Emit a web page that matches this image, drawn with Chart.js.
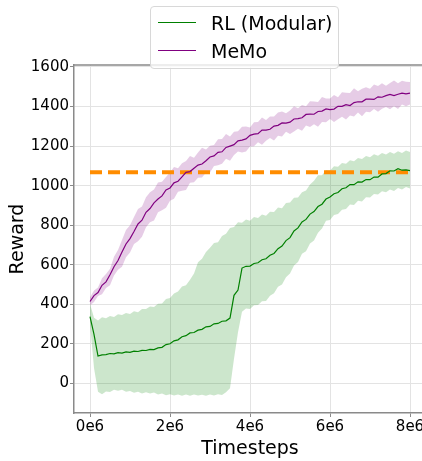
<!DOCTYPE html>
<html>
<head>
<meta charset="utf-8">
<script src="https://cdn.jsdelivr.net/npm/chart.js@4"></script>
<style>
  html, body { margin: 0; padding: 0; background: #fff; overflow: hidden; }
  #wrap { position: relative; width: 422px; height: 461px; overflow: hidden; }
  #chart { position: absolute; left: 0; top: 0; }
  .legend {
    position: absolute; left: 150px; top: 6px; width: 187px; height: 61px;
    border: 1px solid #d8d8d8; border-radius: 4px; background: rgba(255,255,255,0.8);
    font-family: "DejaVu Sans", sans-serif; font-size: 19px; color: #000;
  }
  .row { position: absolute; left: 0; height: 24px; line-height: 24px; white-space: nowrap; }
  .row span.swatch { position: absolute; left: 7px; top: 11px; width: 38px; height: 0; border-top: 1.3px solid; }
  .row span.label { position: absolute; left: 60px; top: 0; }
</style>
</head>
<body>
<div id="wrap">
  <canvas id="chart" width="430" height="461"></canvas>
  <div class="legend">
    <div class="row" style="top:4px"><span class="swatch" style="border-color:green"></span><span class="label">RL (Modular)</span></div>
    <div class="row" style="top:32px"><span class="swatch" style="border-color:purple"></span><span class="label">MeMo</span></div>
  </div>
</div>
<script>
// timesteps in millions
const timesteps = [0, 0.1, 0.2, 0.3, 0.4, 0.5, 0.6, 0.7, 0.8, 0.9,
  1.0, 1.1, 1.2, 1.3, 1.4, 1.5, 1.6, 1.7, 1.8, 1.9,
  2.0, 2.1, 2.2, 2.3, 2.4, 2.5, 2.6, 2.7, 2.8, 2.9,
  3.0, 3.1, 3.2, 3.3, 3.4, 3.5, 3.6, 3.7, 3.8, 3.9,
  4.0, 4.1, 4.2, 4.3, 4.4, 4.5, 4.6, 4.7, 4.8, 4.9,
  5.0, 5.1, 5.2, 5.3, 5.4, 5.5, 5.6, 5.7, 5.8, 5.9,
  6.0, 6.1, 6.2, 6.3, 6.4, 6.5, 6.6, 6.7, 6.8, 6.9,
  7.0, 7.1, 7.2, 7.3, 7.4, 7.5, 7.6, 7.7, 7.8, 7.9,
  8.0];

const rlMean = [337, 248, 138, 144, 145, 151, 149, 155, 153, 159,
  157, 163, 161, 167, 166, 172, 171, 179, 182, 196,
  200, 215, 220, 236, 241, 255, 257, 269, 273, 286,
  288, 301, 303, 314, 316, 330, 445, 472, 583, 592,
  593, 606, 610, 625, 630, 648, 657, 681, 694, 722,
  737, 771, 786, 816, 829, 856, 869, 894, 906, 932,
  942, 959, 965, 984, 989, 1005, 1005, 1019, 1018, 1031,
  1030, 1043, 1043, 1059, 1061, 1075, 1074, 1086, 1078, 1080,
  1076];
const rlUpper = [402, 332, 318, 334, 329, 341, 336, 349, 346, 356,
  351, 364, 360, 376, 376, 389, 386, 402, 404, 426,
  432, 455, 464, 490, 496, 524, 556, 612, 630, 664,
  686, 710, 714, 745, 756, 786, 791, 815, 812, 828,
  822, 841, 836, 854, 848, 868, 866, 889, 886, 912,
  914, 939, 940, 967, 975, 1006, 1025, 1052, 1052, 1079,
  1077, 1098, 1095, 1114, 1110, 1128, 1123, 1140, 1135, 1150,
  1143, 1158, 1151, 1165, 1157, 1170, 1161, 1174, 1165, 1178,
  1170];
const rlLower = [300, 78, -42, -55, -41, -44, -32, -38, -33, -43,
  -39, -47, -42, -51, -45, -52, -46, -56, -52, -60,
  -55, -62, -57, -63, -57, -63, -57, -62, -58, -63,
  -57, -62, -55, -59, -45, -25, 125, 258, 362, 378,
  376, 395, 396, 415, 416, 443, 456, 488, 500, 537,
  555, 596, 614, 655, 668, 707, 723, 762, 783, 822,
  826, 851, 856, 878, 882, 904, 902, 924, 920, 941,
  940, 958, 955, 972, 966, 980, 973, 988, 980, 993,
  986];

const memoMean = [414, 444, 459, 496, 513, 549, 590, 621, 664, 705,
  732, 768, 806, 825, 865, 884, 913, 932, 948, 978,
  988, 1014, 1022, 1044, 1067, 1071, 1088, 1104, 1109, 1126,
  1145, 1150, 1168, 1171, 1193, 1200, 1207, 1226, 1230, 1236,
  1254, 1260, 1263, 1281, 1281, 1285, 1301, 1305, 1317, 1316,
  1321, 1337, 1339, 1343, 1360, 1362, 1361, 1375, 1377, 1388,
  1384, 1387, 1401, 1401, 1409, 1405, 1420, 1424, 1424, 1437,
  1437, 1436, 1449, 1447, 1455, 1461, 1455, 1462, 1468, 1464,
  1468];
const memoUpper = [436, 470, 485, 532, 553, 580, 640, 674, 725, 776,
  799, 841, 882, 894, 941, 967, 980, 1016, 1019, 1043,
  1068, 1094, 1088, 1113, 1125, 1150, 1141, 1168, 1191, 1183,
  1201, 1206, 1234, 1236, 1261, 1249, 1272, 1275, 1298, 1299,
  1294, 1320, 1322, 1344, 1332, 1349, 1349, 1370, 1375, 1366,
  1380, 1401, 1391, 1408, 1402, 1427, 1425, 1423, 1448, 1440,
  1441, 1458, 1447, 1472, 1470, 1468, 1492, 1477, 1490, 1498,
  1490, 1511, 1504, 1518, 1505, 1519, 1531, 1518, 1530, 1525,
  1524];
const memoLower = [394, 411, 442, 451, 482, 496, 546, 574, 590, 638,
  662, 705, 719, 741, 789, 815, 823, 865, 876, 888,
  923, 934, 969, 974, 978, 1015, 1017, 1040, 1041, 1066,
  1066, 1099, 1103, 1110, 1136, 1126, 1155, 1172, 1168, 1173,
  1198, 1199, 1219, 1207, 1227, 1241, 1228, 1252, 1249, 1273,
  1261, 1274, 1288, 1277, 1304, 1297, 1310, 1298, 1322, 1320,
  1337, 1322, 1336, 1348, 1335, 1355, 1349, 1370, 1351, 1373,
  1371, 1387, 1373, 1389, 1397, 1386, 1401, 1388, 1410, 1402,
  1410];

const expertReward = 1067;
const xTicks = [0, 2, 4, 6, 8];
const yTicks = [0, 200, 400, 600, 800, 1000, 1200, 1400, 1600];

const pts = arr => arr.map((v, i) => ({ x: timesteps[i], y: v }));
const font = { family: "DejaVu Sans", size: 15 };

// top spine (matplotlib style box)
const topSpine = {
  id: "topSpine",
  afterDatasetsDraw(chart) {
    const { ctx, chartArea } = chart;
    ctx.save();
    ctx.strokeStyle = "#8a8a8a";
    ctx.lineWidth = 1.5;
    ctx.beginPath();
    ctx.moveTo(chartArea.left, chartArea.top);
    ctx.lineTo(chartArea.right, chartArea.top);
    ctx.stroke();
    ctx.restore();
  }
};

new Chart(document.getElementById("chart"), {
  type: "line",
  data: {
    datasets: [
      { label: "MeMo upper", data: pts(memoUpper), fill: "+1", backgroundColor: "rgba(128,0,128,0.2)",
        borderWidth: 0, pointRadius: 0, order: 5 },
      { label: "MeMo lower", data: pts(memoLower), fill: false, borderWidth: 0, pointRadius: 0, order: 6 },
      { label: "RL upper", data: pts(rlUpper), fill: "+1", backgroundColor: "rgba(0,128,0,0.2)",
        borderWidth: 0, pointRadius: 0, order: 3 },
      { label: "RL lower", data: pts(rlLower), fill: false, borderWidth: 0, pointRadius: 0, order: 4 },
      { label: "Expert", data: [{ x: timesteps[0], y: expertReward }, { x: timesteps[timesteps.length - 1], y: expertReward }],
        borderColor: "#ff8c00", borderWidth: 4, borderDash: [12, 6], borderCapStyle: "butt",
        pointRadius: 0, fill: false, order: 2 },
      { label: "MeMo", data: pts(memoMean), borderColor: "purple", borderWidth: 1.2,
        pointRadius: 0, fill: false, order: 1 },
      { label: "RL (Modular)", data: pts(rlMean), borderColor: "green", borderWidth: 1.2,
        pointRadius: 0, fill: false, order: 0 }
    ]
  },
  options: {
    responsive: false,
    animation: false,
    layout: { padding: { top: 65, right: 4, left: 0, bottom: 0 } },
    plugins: { legend: { display: false }, tooltip: { enabled: false } },
    scales: {
      x: {
        type: "linear",
        min: -0.4,
        max: 8.4,
        afterBuildTicks: s => { s.ticks = xTicks.map(v => ({ value: v })); },
        afterFit: s => { s.height = 48; },
        ticks: { font, color: "#000", padding: 1, maxRotation: 0, callback: v => v + "e6" },
        grid: { color: "#e3e3e3", lineWidth: 1, tickLength: 4, tickColor: "#8a8a8a", tickWidth: 1 },
        border: { color: "#8a8a8a", width: 1.5 },
        title: { display: true, text: "Timesteps", color: "#000",
          font: { family: "DejaVu Sans", size: 19 }, padding: { top: 0, bottom: 1 } }
      },
      y: {
        min: -150,
        max: 1610,
        afterBuildTicks: s => { s.ticks = yTicks.map(v => ({ value: v })); },
        afterFit: s => { s.width = 74; },
        ticks: { font, color: "#000", padding: 1, callback: v => String(v) },
        grid: { color: "#e3e3e3", lineWidth: 1, tickLength: 4, tickColor: "#8a8a8a", tickWidth: 1 },
        border: { color: "#8a8a8a", width: 1.5 },
        title: { display: true, text: "Reward", color: "#000",
          font: { family: "DejaVu Sans", size: 19 }, padding: { top: 7, bottom: 0 } }
      }
    }
  },
  plugins: [topSpine]
});
</script>
</body>
</html>
